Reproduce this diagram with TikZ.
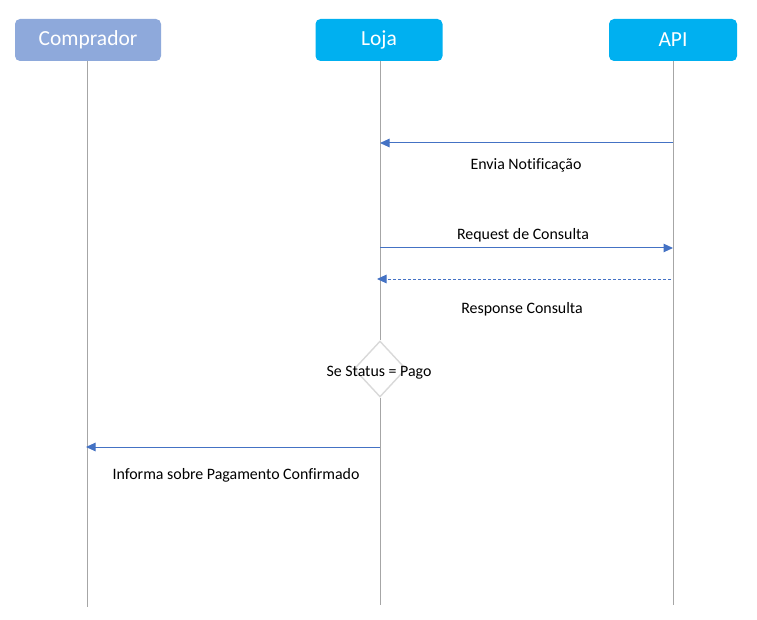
\documentclass[tikz,border=0pt]{standalone}
\usepackage{fontspec}
\setmainfont{Carlito}[Ligatures={NoCommon}]
\usetikzlibrary{arrows.meta,shapes.geometric}
\definecolor{hdrA}{HTML}{8EA9DB}
\definecolor{hdrB}{HTML}{00B0F0}
\definecolor{msg}{HTML}{4472C4}
\definecolor{life}{HTML}{A6A6A6}
\definecolor{dia}{HTML}{D9D9D9}
\tikzset{
  hdr/.style={rounded corners=5pt, minimum height=42pt, text=white, inner sep=0pt,
    font=\fontsize{21.5}{24}\selectfont},
  lifeline/.style={draw=life, line width=1pt},
  msgline/.style={draw=msg, line width=1pt, -{Triangle[length=9.5pt,width=8.5pt]}},
  lbl/.style={font=\fontsize{15.9}{18}\selectfont, inner sep=0pt},
  decision/.style={diamond, draw=dia, line width=1.4pt, fill=white, minimum width=52pt, minimum height=56pt, inner sep=0pt, aspect=0.93}
}
\begin{document}
\begin{tikzpicture}[x=1pt,y=-1pt]
\useasboundingbox (0,0) rectangle (757,620);
% headers
\node[hdr, fill=hdrA, minimum width=146pt] (comp) at (88,40) {Comprador};
\node[hdr, fill=hdrB, minimum width=127pt] (loja) at (379,40) {Loja};
\node[hdr, fill=hdrB, minimum width=128pt] (api) at (673,40) {API};
% lifeline ends
\coordinate (compEnd) at (87,607);
\coordinate (lojaEnd) at (380,605);
\coordinate (apiEnd) at (673,605);
% decision
\node[decision] (dec) at (380,369) {};
\draw[lifeline] (comp.south -| compEnd) -- (compEnd);
\draw[lifeline] (loja.south -| lojaEnd) -- (dec.north);
\draw[lifeline] (dec.south) -- (lojaEnd);
\draw[lifeline] (api.south -| apiEnd) -- (apiEnd);
\node[lbl] (declbl) at (379,373) {Se Status = Pago};
% message coordinates
\coordinate (m1a) at (673,143);
\coordinate (m1b) at (380,143);
\coordinate (m2a) at (380,248);
\coordinate (m2b) at (673,248);
\coordinate (m3a) at (671,279);
\coordinate (m3b) at (377,279);
\coordinate (m4a) at (380,447);
\coordinate (m4b) at (86,447);
\draw[msgline] (m1a) -- (m1b);
\draw[msgline] (m2a) -- (m2b);
\draw[msgline, dashed, dash pattern=on 3pt off 2pt] (m3a) -- (m3b);
\draw[msgline] (m4a) -- (m4b);
% labels
\node[lbl] (l1) at (526,165) {Envia Notificação};
\node[lbl] (l2) at (523,235) {Request de Consulta};
\node[lbl] (l3) at (522,309) {Response Consulta};
\node[lbl] (l4) at (236,475) {Informa sobre Pagamento Confirmado};
\end{tikzpicture}
\end{document}
